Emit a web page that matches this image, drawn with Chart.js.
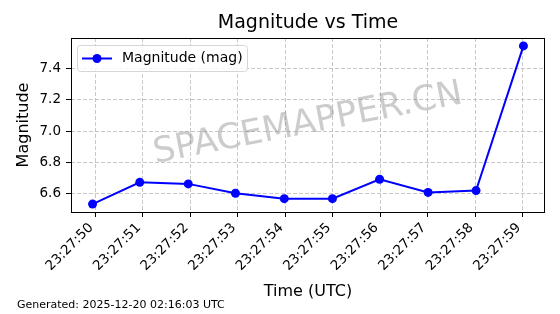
<!DOCTYPE html>
<html>
<head>
<meta charset="utf-8">
<script src="https://cdn.jsdelivr.net/npm/chart.js@4"></script>
<style>
  html, body { margin: 0; padding: 0; background: #fff; }
  #wrap { width: 560px; height: 314px; }
</style>
</head>
<body>
<div id="wrap"><canvas id="myChart"></canvas></div>
<script>
// tick labels on the time axis (whole seconds)
const tickSeconds = [50, 51, 52, 53, 54, 55, 56, 57, 58, 59];
const tickLabels = ['23:27:50', '23:27:51', '23:27:52', '23:27:53', '23:27:54',
  '23:27:55', '23:27:56', '23:27:57', '23:27:58', '23:27:59'];

// observation times (seconds past 23:27) and magnitudes
const obsSeconds = [49.943, 50.937, 51.958, 52.951, 53.979, 54.992, 55.985, 57.006, 58.015, 59.013];
const magnitudes = [6.53, 6.67, 6.66, 6.60, 6.565, 6.565, 6.69, 6.605, 6.617, 7.548];

const yTicks = [6.6, 6.8, 7.0, 7.2, 7.4];

const FONT = "'DejaVu Sans', sans-serif";
Chart.defaults.font.family = FONT;
Chart.defaults.color = '#000';

// matplotlib-like 5% margins
function padRange(arr) {
  const lo = Math.min(...arr), hi = Math.max(...arr), m = (hi - lo) * 0.05;
  return [lo - m, hi + m];
}
const [xMin, xMax] = padRange(obsSeconds);
const [yMin, yMax] = padRange(magnitudes);

const decor = {
  id: 'decor',
  beforeDatasetsDraw(chart) {
    const {ctx, chartArea: a} = chart;
    ctx.save();
    ctx.translate((a.left + a.right) / 2, (a.top + a.bottom) / 2 - 1);
    ctx.rotate(-11 * Math.PI / 180);
    ctx.font = '35px ' + FONT;
    ctx.fillStyle = 'rgba(128,128,128,0.4)';
    ctx.textAlign = 'center';
    ctx.textBaseline = 'middle';
    ctx.fillText('SPACEMAPPER.CN', 0, 0);
    ctx.restore();
  },
  afterDraw(chart) {
    const {ctx, chartArea: a} = chart;
    ctx.save();
    // title
    ctx.font = '19px ' + FONT;
    ctx.fillStyle = '#000';
    ctx.textAlign = 'center';
    ctx.textBaseline = 'alphabetic';
    ctx.fillText('Magnitude vs Time', (a.left + a.right) / 2, 28);

    // frame
    ctx.strokeStyle = '#000';
    ctx.lineWidth = 1;
    ctx.strokeRect(Math.round(a.left) + 0.5, Math.round(a.top) + 0.5,
      Math.round(a.right - a.left) - 1, Math.round(a.bottom - a.top));

    // legend
    const bx = a.left + 6, by = a.top + 7, bw = 170, bh = 26;
    ctx.beginPath();
    ctx.roundRect(bx + 0.5, by + 0.5, bw, bh, 3);
    ctx.fillStyle = 'rgba(255,255,255,0.8)';
    ctx.fill();
    ctx.strokeStyle = '#d6d6d6';
    ctx.stroke();
    const ly = by + bh / 2 + 0.5;
    ctx.strokeStyle = '#0000ff';
    ctx.lineWidth = 2;
    ctx.beginPath();
    ctx.moveTo(bx + 5, ly);
    ctx.lineTo(bx + 35, ly);
    ctx.stroke();
    ctx.beginPath();
    ctx.arc(bx + 20, ly, 4.5, 0, Math.PI * 2);
    ctx.fillStyle = '#0000ff';
    ctx.fill();
    ctx.font = '14px ' + FONT;
    ctx.fillStyle = '#000';
    ctx.textAlign = 'left';
    ctx.textBaseline = 'middle';
    ctx.fillText('Magnitude (mag)', bx + 45, ly);
    ctx.restore();
  }
};

const gridStyle = {
  color: 'rgba(176,176,176,0.7)',
  lineWidth: 1,
  tickColor: '#000',
  tickLength: 5,
  tickWidth: 1,
  tickBorderDash: []
};

new Chart(document.getElementById('myChart'), {
  type: 'line',
  plugins: [decor],
  data: {
    datasets: [{
      label: 'Magnitude (mag)',
      data: obsSeconds.map((s, i) => ({x: s, y: magnitudes[i]})),
      borderColor: '#0000ff',
      backgroundColor: '#0000ff',
      borderWidth: 2,
      pointRadius: 4.5,
      pointHoverRadius: 4.5,
      pointBorderWidth: 0,
      tension: 0,
      clip: 8
    }]
  },
  options: {
    responsive: true,
    maintainAspectRatio: false,
    animation: false,
    events: [],
    layout: { padding: { left: 17, right: 15, top: 38, bottom: 0 } },
    plugins: {
      legend: { display: false },
      tooltip: { enabled: false },
      title: { display: false },
      subtitle: {
        display: true,
        position: 'bottom',
        align: 'start',
        text: 'Generated: 2025-12-20 02:16:03 UTC',
        font: { size: 11, family: FONT },
        color: '#000',
        padding: { top: 0, bottom: 2 }
      }
    },
    scales: {
      x: {
        type: 'linear',
        min: xMin,
        max: xMax,
        afterBuildTicks: s => { s.ticks = tickSeconds.map(v => ({value: v})); },
        afterFit: s => { s.height = 86.8; },
        grid: gridStyle,
        border: { display: false, dash: [4, 2] },
        ticks: {
          autoSkip: false,
          minRotation: 45,
          maxRotation: 45,
          padding: 3,
          labelOffset: -4,
          font: { size: 13.5 },
          callback: v => tickLabels[tickSeconds.indexOf(v)]
        },
        title: {
          display: true,
          text: 'Time (UTC)',
          font: { size: 16 },
          padding: { top: 0, bottom: -3 }
        }
      },
      y: {
        type: 'linear',
        min: yMin,
        max: yMax,
        afterBuildTicks: s => { s.ticks = yTicks.map(v => ({value: v})); },
        afterFit: s => { s.width = 54; },
        grid: gridStyle,
        border: { display: false, dash: [4, 2] },
        ticks: {
          padding: 5,
          font: { size: 13.5 },
          callback: v => v.toFixed(1)
        },
        title: {
          display: true,
          text: 'Magnitude',
          font: { size: 16 },
          padding: { top: -3, bottom: 0 }
        }
      }
    }
  }
});
</script>
</body>
</html>
